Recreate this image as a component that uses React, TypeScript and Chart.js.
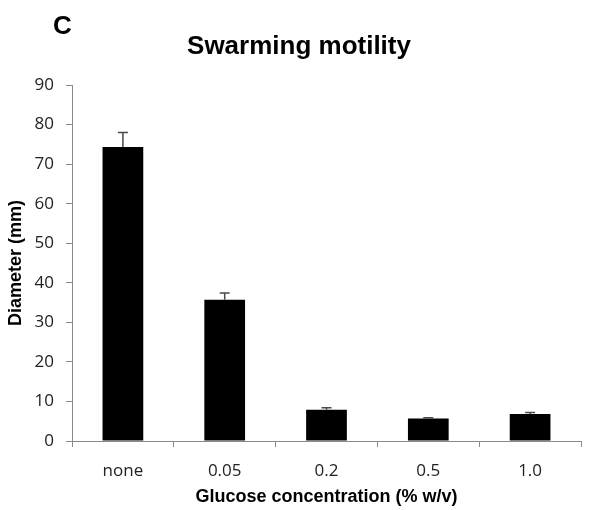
import React, { useEffect, useRef } from "react";
import { Chart, registerables } from "chart.js";

Chart.register(...registerables);

const categories = ["none", "0.05", "0.2", "0.5", "1.0"];
const diameters = [74.3, 35.7, 7.9, 5.7, 6.8];
const errors = [3.7, 1.7, 0.5, 0.2, 0.4];
const yTicks = [0, 10, 20, 30, 40, 50, 60, 70, 80, 90];

const panelLetter = "C";
const chartTitle = "Swarming motility";
const xTitle = "Glucose concentration (% w/v)";
const yTitle = "Diameter (mm)";

const AXIS = "#8a8a8a";
const TEXT = "#222222";
const TICK_FONT = "'Open Sans', 'Noto Sans', sans-serif";
const BOLD_FONT = "'Liberation Sans', Arial, sans-serif";

const overlayPlugin = {
  id: "overlay",
  afterDatasetsDraw(chart: any) {
    const { ctx, scales } = chart;
    const meta = chart.getDatasetMeta(0);
    const y = scales.y;
    ctx.save();
    ctx.strokeStyle = "#4a4a4a";
    ctx.lineWidth = 1.5;
    meta.data.forEach((bar: any, i: number) => {
      const top = y.getPixelForValue(diameters[i]);
      const errTop = y.getPixelForValue(diameters[i] + errors[i]);
      ctx.beginPath();
      ctx.moveTo(bar.x, top);
      ctx.lineTo(bar.x, errTop);
      ctx.moveTo(bar.x - 5, errTop);
      ctx.lineTo(bar.x + 5, errTop);
      ctx.stroke();
    });
    ctx.restore();
  },
  afterDraw(chart: any) {
    const { ctx, chartArea } = chart;
    ctx.save();
    ctx.fillStyle = "#000";
    ctx.textBaseline = "alphabetic";
    ctx.textAlign = "left";
    ctx.font = `bold 26px ${BOLD_FONT}`;
    ctx.fillText(panelLetter, 53, 34);
    ctx.textAlign = "center";
    ctx.fillText(chartTitle, 299, 54);
    ctx.textBaseline = "middle";
    ctx.font = `bold 18px ${BOLD_FONT}`;
    ctx.fillText(xTitle, (chartArea.left + chartArea.right) / 2, 497);
    ctx.translate(16, (chartArea.top + chartArea.bottom) / 2);
    ctx.rotate(-Math.PI / 2);
    ctx.fillText(yTitle, 0, 0);
    ctx.restore();
  },
};

export default function App() {
  const ref = useRef<HTMLCanvasElement | null>(null);
  useEffect(() => {
    if (!ref.current) return;
    const chart = new Chart(ref.current, {
      type: "bar",
      data: {
        labels: categories,
        datasets: [
          {
            data: diameters,
            backgroundColor: "#000000",
            borderWidth: 0,
            barPercentage: 0.4,
            categoryPercentage: 1,
          },
        ],
      },
      options: {
        animation: false,
        responsive: false,
        layout: { padding: { left: 0, right: 19, top: 85, bottom: 0 } },
        plugins: {
          legend: { display: false },
          tooltip: { enabled: false },
          title: { display: false },
        },
        scales: {
          x: {
            grid: {
              drawOnChartArea: false,
              drawTicks: true,
              tickLength: 6,
              color: AXIS,
              offset: true,
            },
            border: { display: true, color: AXIS, width: 1 },
            ticks: {
              color: TEXT,
              padding: 14,
              font: { family: TICK_FONT, size: 17 },
            },
            afterFit(scale: any) {
              scale.height = 69;
            },
          },
          y: {
            min: 0,
            max: 90,
            afterBuildTicks(scale: any) {
              scale.ticks = yTicks.map((v) => ({ value: v }));
            },
            grid: {
              drawOnChartArea: false,
              drawTicks: true,
              tickLength: 6,
              color: AXIS,
            },
            border: { display: true, color: AXIS, width: 1 },
            ticks: {
              color: TEXT,
              padding: 12,
              font: { family: TICK_FONT, size: 17 },
            },
            afterFit(scale: any) {
              scale.width = 72;
            },
          },
        },
      },
      plugins: [overlayPlugin],
    });
    return () => chart.destroy();
  }, []);
  return (
    <div style={{ position: "fixed", left: 0, top: 0, width: 600, height: 510, background: "#fff" }}>
      <canvas ref={ref} width={600} height={510} style={{ width: 600, height: 510 }} />
    </div>
  );
}
